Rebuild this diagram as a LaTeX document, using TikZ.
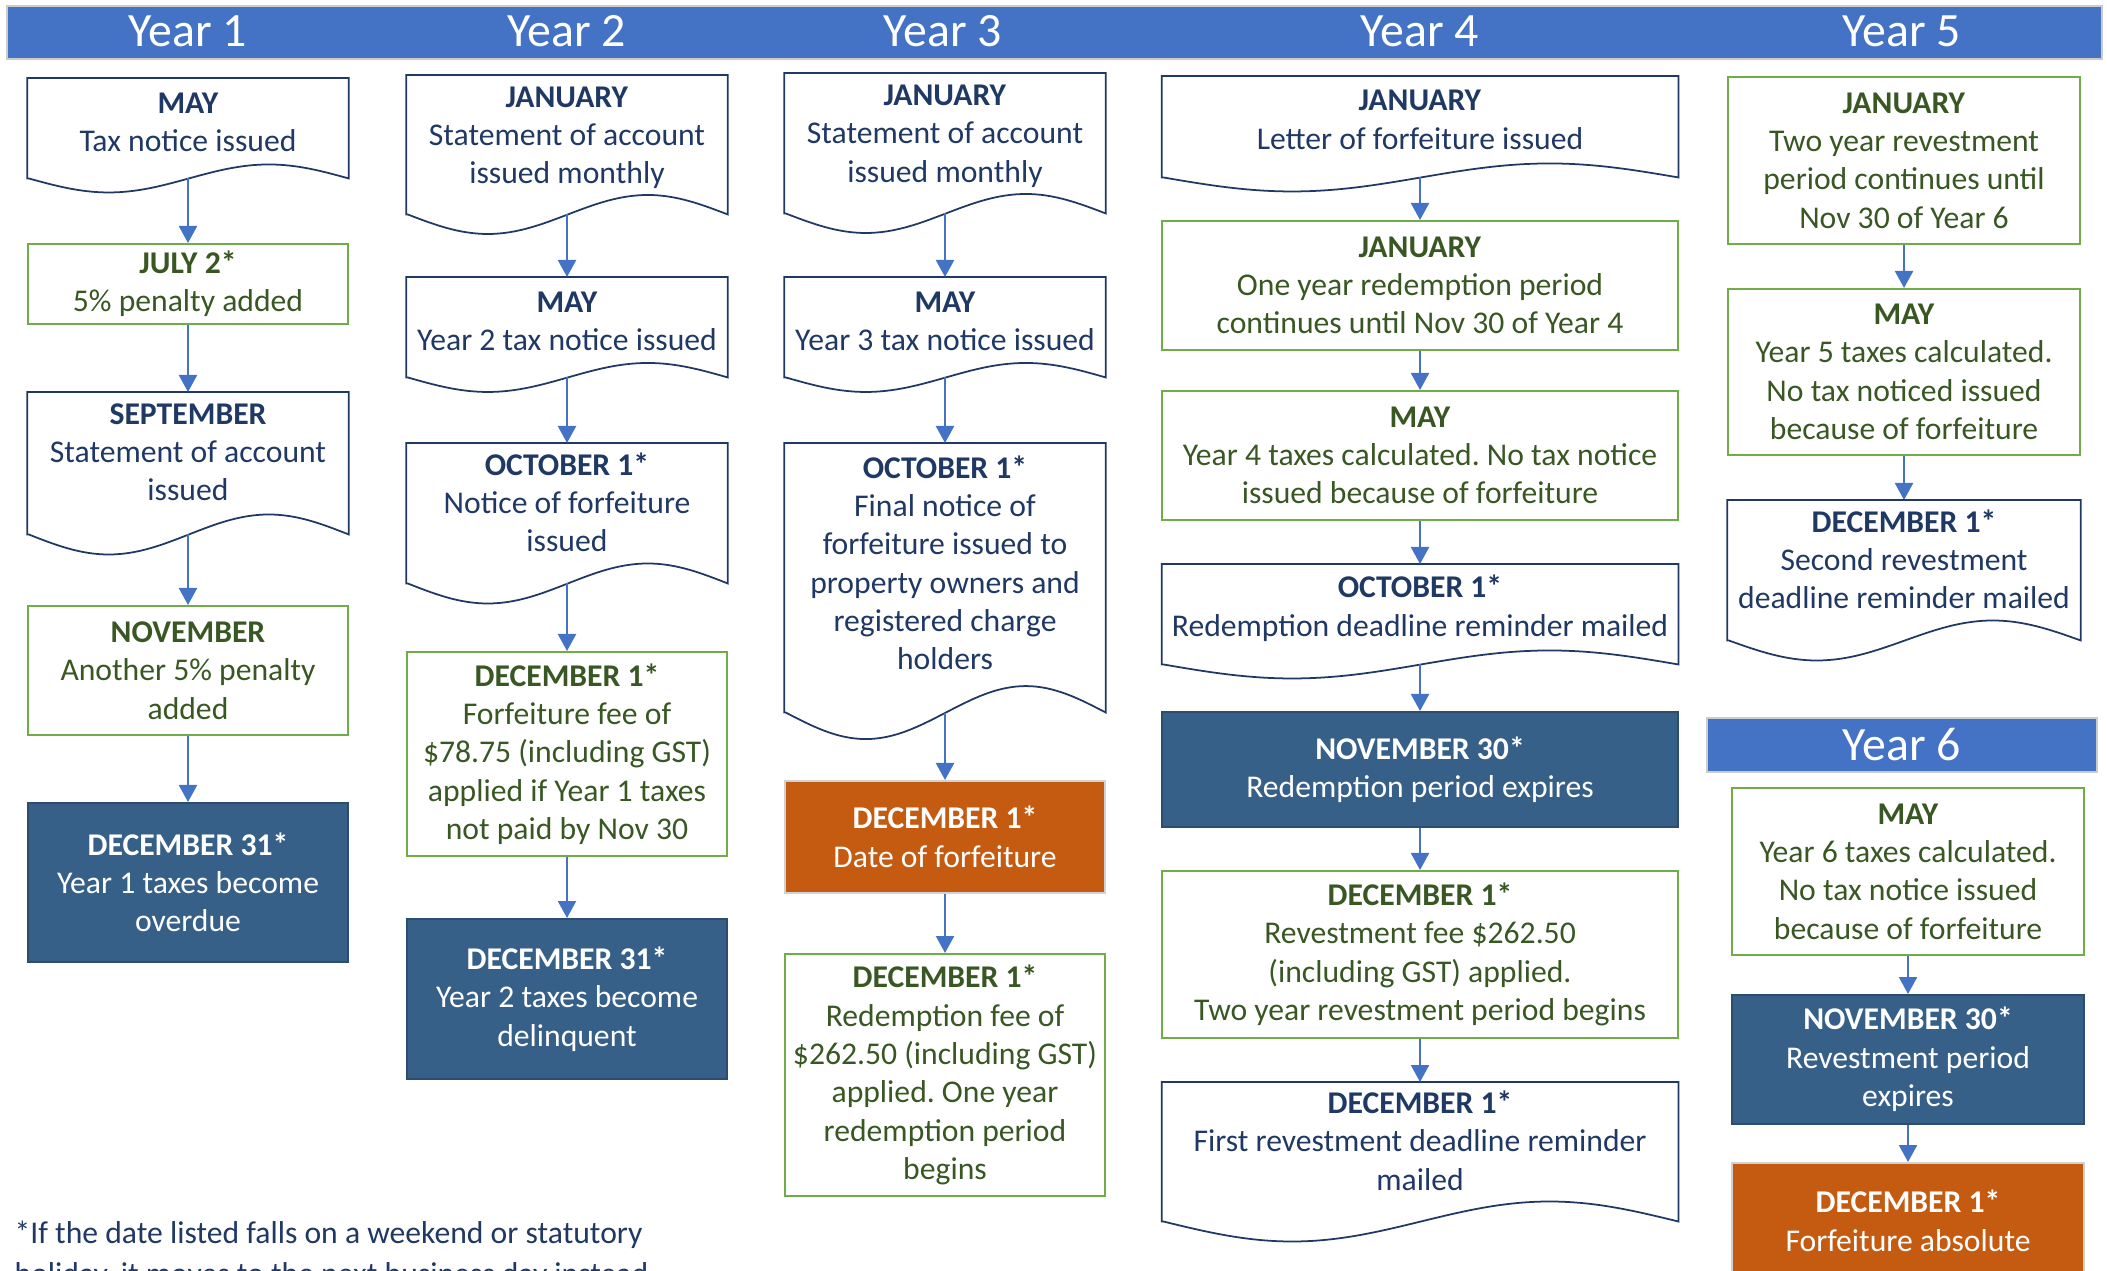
\documentclass[tikz,border=0pt]{standalone}
\usepackage{fontspec}
\setmainfont{Carlito}
\usetikzlibrary{arrows.meta}
\definecolor{barblue}{HTML}{4472C4}
\definecolor{navy}{HTML}{1F3864}
\definecolor{leaf}{HTML}{70AD47}
\definecolor{moss}{HTML}{385723}
\definecolor{slate}{HTML}{376089}
\definecolor{rust}{HTML}{C55A11}
\newcommand{\docoutline}[4][0.12cm]{%
  \draw[navy, line width=0.5pt] ([yshift=-#1]#2.south west) -- (#2.north west) -- (#2.north east)
    -- ([yshift=-#1]#2.south east) sin ++(-#3/4,-#4) cos ++(-#3/4,#4)
    sin ++(-#3/4,#4) cos ++(-#3/4,-#4) -- cycle;}
\tikzset{
  box/.style={rectangle, anchor=north, align=center, inner sep=2pt, font=\fontsize{9}{10.9}\selectfont},
  docbox/.style={box, text=navy},
  greenbox/.style={box, draw=leaf, line width=0.5pt, text=moss},
  darkbox/.style={box, fill=slate, draw=slate!80!black, line width=0.5pt, text=white},
  orangebox/.style={box, fill=rust, draw=gray!35, line width=0.5pt, text=white},
  narrow/.style={minimum width=3.2cm},
  wide/.style={minimum width=5.15cm},
  side/.style={minimum width=3.52cm},
  yearbar/.style={rectangle, fill=barblue, draw=gray!40, line width=0.5pt, inner sep=0pt},
  yearlabel/.style={text=white, font=\fontsize{13.6}{16}\selectfont},
  flow/.style={barblue, line width=0.65pt, -{Triangle[width=0.18cm,length=0.17cm]}}
}
\begin{document}
\frenchspacing
\begin{tikzpicture}[x=0.01cm, y=-0.01cm]
  \useasboundingbox (0,0) rectangle (2107,1270);
  \clip (0,0) rectangle (2107,1270);
  \node[yearbar, anchor=north west, minimum width=20.94cm, minimum height=0.53cm] (bar) at (6,5) {};
  \node[yearlabel] (year1) at (188,31.5) {Year 1};
  \node[yearlabel] (year2) at (567,31.5) {Year 2};
  \node[yearlabel] (year3) at (943,31.5) {Year 3};
  \node[yearlabel] (year4) at (1420,31.5) {Year 4};
  \node[yearlabel] (year5) at (1902,31.5) {Year 5};
  \node[yearbar, yearlabel, minimum width=3.9cm, minimum height=0.54cm] (year6) at (1902,745) {Year 6};

  \node[docbox, narrow, minimum height=0.87cm] (y1may) at (188,78) {\textbf{MAY}\\Tax notice issued};
  \node[greenbox, narrow, minimum height=0.79cm] (y1jul) at (188,243) {\textbf{JULY 2*}\\5\% penalty added};
  \node[docbox, narrow, minimum height=1.19cm] (y1sep) at (188,392) {\textbf{SEPTEMBER}\\Statement of account\\issued};
  \node[greenbox, narrow, minimum height=1.29cm] (y1nov) at (188,605) {\textbf{NOVEMBER}\\Another 5\% penalty\\added};
  \node[darkbox, narrow, minimum height=1.59cm] (y1due) at (188,802) {\textbf{DECEMBER 31*}\\Year 1 taxes become\\overdue};

  \node[docbox, narrow, minimum height=1.24cm] (y2jan) at (567,75) {\textbf{JANUARY}\\Statement of account\\issued monthly};
  \node[docbox, narrow, minimum height=0.87cm] (y2may) at (567,277) {\textbf{MAY}\\Year 2 tax notice issued};
  \node[docbox, narrow, minimum height=1.17cm] (y2oct) at (567,443) {\textbf{OCTOBER 1*}\\Notice of forfeiture\\issued};
  \node[greenbox, narrow, minimum height=2.04cm] (y2fee) at (567,651) {\textbf{DECEMBER 1*}\\Forfeiture fee of\\\$78.75 (including GST)\\applied if Year 1 taxes\\not paid by Nov 30};
  \node[darkbox, narrow, minimum height=1.60cm] (y2due) at (567,918) {\textbf{DECEMBER 31*}\\Year 2 taxes become\\delinquent};

  \node[docbox, narrow, minimum height=1.25cm] (y3jan) at (945,73) {\textbf{JANUARY}\\Statement of account\\issued monthly};
  \node[docbox, narrow, minimum height=0.87cm] (y3may) at (945,277) {\textbf{MAY}\\Year 3 tax notice issued};
  \node[docbox, narrow, minimum height=2.38cm] (y3oct) at (945,443) {\textbf{OCTOBER 1*}\\Final notice of\\forfeiture issued to\\property owners and\\registered charge\\holders};
  \node[orangebox, narrow, minimum height=1.12cm] (y3lost) at (945,780) {\textbf{DECEMBER 1*}\\Date of forfeiture};
  \node[greenbox, narrow, minimum height=2.42cm] (y3fee) at (945,953) {\textbf{DECEMBER 1*}\\Redemption fee of\\\$262.50 (including GST)\\applied. One year\\redemption period\\begins};

  \node[docbox, wide, minimum height=0.86cm] (y4jan) at (1420,76) {\textbf{JANUARY}\\Letter of forfeiture issued};
  \node[greenbox, wide, minimum height=1.29cm] (y4hold) at (1420,220) {\textbf{JANUARY}\\One year redemption period\\continues until Nov 30 of Year 4};
  \node[greenbox, wide, minimum height=1.29cm] (y4may) at (1420,390) {\textbf{MAY}\\Year 4 taxes calculated. No tax notice\\issued because of forfeiture};
  \node[docbox, wide, minimum height=0.87cm] (y4oct) at (1420,564) {\textbf{OCTOBER 1*}\\Redemption deadline reminder mailed};
  \node[darkbox, wide, minimum height=1.15cm] (y4exp) at (1420,711) {\textbf{NOVEMBER 30*}\\Redemption period expires};
  \node[greenbox, wide, minimum height=1.67cm] (y4fee) at (1420,870) {\textbf{DECEMBER 1*}\\Revestment fee \$262.50\\(including GST) applied.\\Two year revestment period begins};
  \node[docbox, wide, minimum height=1.16cm] (y4first) at (1420,1082) {\textbf{DECEMBER 1*}\\First revestment deadline reminder\\mailed};

  \node[greenbox, side, minimum height=1.67cm] (y5jan) at (1904,76) {\textbf{JANUARY}\\Two year revestment\\period continues until\\Nov 30 of Year 6};
  \node[greenbox, side, minimum height=1.66cm] (y5may) at (1904,288) {\textbf{MAY}\\Year 5 taxes calculated.\\No tax noticed issued\\because of forfeiture};
  \node[docbox, side, minimum height=1.17cm] (y5dec) at (1904,500) {\textbf{DECEMBER 1*}\\Second revestment\\deadline reminder mailed};

  \node[greenbox, side, minimum height=1.67cm] (y6may) at (1908,787) {\textbf{MAY}\\Year 6 taxes calculated.\\No tax notice issued\\because of forfeiture};
  \node[darkbox, side, minimum height=1.29cm] (y6exp) at (1908,994) {\textbf{NOVEMBER 30*}\\Revestment period\\expires};
  \node[orangebox, side, minimum height=1.16cm] (y6abs) at (1908,1162) {\textbf{DECEMBER 1*}\\Forfeiture absolute};

  \node[anchor=base west, align=left, inner sep=0pt, text=navy, font=\fontsize{9}{11.4}\selectfont] (note) at (14,1284) {*If the date listed falls on a weekend or statutory\\holiday, it moves to the next business day instead.};

  \docoutline{y1may}{320}{14}
  \docoutline[0.22cm]{y1sep}{320}{20}
  \docoutline[0.14cm]{y2jan}{320}{19.5}
  \docoutline{y2may}{320}{14.5}
  \docoutline[0.22cm]{y2oct}{320}{20}
  \docoutline[0.14cm]{y3jan}{320}{19.5}
  \docoutline{y3may}{320}{14.5}
  \docoutline[0.30cm]{y3oct}{320}{26.5}
  \docoutline[0.14cm]{y4jan}{515}{14}
  \docoutline{y4oct}{515}{14}
  \docoutline[0.22cm]{y4first}{515}{20}
  \docoutline[0.22cm]{y5dec}{352}{20}

  \draw[flow] ([yshift=-0.12cm]y1may.south) -- (y1jul.north);
  \draw[flow] (y1jul.south) -- (y1sep.north);
  \draw[flow] ([yshift=-0.22cm]y1sep.south) -- (y1nov.north);
  \draw[flow] (y1nov.south) -- (y1due.north);
  \draw[flow] ([yshift=-0.14cm]y2jan.south) -- (y2may.north);
  \draw[flow] ([yshift=-0.12cm]y2may.south) -- (y2oct.north);
  \draw[flow] ([yshift=-0.22cm]y2oct.south) -- (y2fee.north);
  \draw[flow] (y2fee.south) -- (y2due.north);
  \draw[flow] ([yshift=-0.14cm]y3jan.south) -- (y3may.north);
  \draw[flow] ([yshift=-0.12cm]y3may.south) -- (y3oct.north);
  \draw[flow] ([yshift=-0.30cm]y3oct.south) -- (y3lost.north);
  \draw[flow] (y3lost.south) -- (y3fee.north);
  \draw[flow] ([yshift=-0.14cm]y4jan.south) -- (y4hold.north);
  \draw[flow] (y4hold.south) -- (y4may.north);
  \draw[flow] (y4may.south) -- (y4oct.north);
  \draw[flow] ([yshift=-0.12cm]y4oct.south) -- (y4exp.north);
  \draw[flow] (y4exp.south) -- (y4fee.north);
  \draw[flow] (y4fee.south) -- (y4first.north);
  \draw[flow] (y5jan.south) -- (y5may.north);
  \draw[flow] (y5may.south) -- (y5dec.north);
  \draw[flow] (y6may.south) -- (y6exp.north);
  \draw[flow] (y6exp.south) -- (y6abs.north);
\end{tikzpicture}
\end{document}
